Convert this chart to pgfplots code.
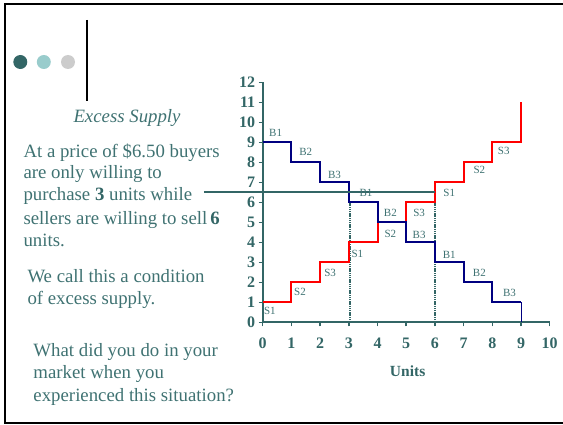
\documentclass[border=0pt]{standalone}
\usepackage{pgfplots}
\pgfplotsset{compat=1.18}
\usepackage{fontspec}
\setmainfont{Liberation Serif}
\definecolor{teal1}{HTML}{336666}
\definecolor{txt}{HTML}{3F7272}
\definecolor{lteal}{HTML}{99CCCC}
\definecolor{gr}{HTML}{CCCCCC}
\definecolor{navyb}{HTML}{000080}
\begin{document}
\begin{tikzpicture}[x=1pt,y=1pt]
\useasboundingbox (0,0) rectangle (563,424);
% slide frame
\draw[black, line width=2.2pt] (563,420) -- (4.6,420) -- (4.6,1) -- (563,1);
\draw[black, line width=2pt] (87,404) -- (87,323);
\fill[teal1] (20.3,362) circle (7);
\fill[lteal] (43.8,362) circle (7);
\fill[gr] (68,362) circle (7);
% text
\begin{scope}[every node/.style={anchor=base west, inner sep=0pt, text=txt, font=\fontsize{18.8}{18.8}\selectfont}]
\node at (73.3,301.3) {\itshape Excess Supply};
\node at (23.3,266.7) {At a price of \$6.50 buyers};
\node at (23.3,245) {are only willing to};
\node at (23.3,223.3) {purchase \textbf{\color{teal1}3} units while};
\node at (23.3,200) {sellers are willing to sell\,\textbf{\color{teal1}6}};
\node at (23.3,177.3) {units.};
\node at (27.3,141.3) {We call this a condition};
\node at (27.3,120) {of excess supply.};
\node at (33.3,68) {What did you do in your};
\node at (33.3,45.3) {market when you};
\node at (33.3,22.3) {experienced this situation?};
\end{scope}
\begin{axis}[at={(262.7pt,101.7pt)}, anchor=south west,
  x=28.7pt, y=20pt, xmin=0, xmax=10, ymin=0, ymax=12,
  axis lines=left, axis line style={teal1, line width=2pt, -},
  clip=false, xtick={0,...,10}, ytick={0,...,12},
  tick align=outside, tick style={teal1, line width=1.5pt},
  major tick length=4pt,
  ticklabel style={font=\fontsize{16}{16}\selectfont\bfseries, text=teal1},
  xticklabel style={yshift=-8pt},
  /pgf/number format/assume math mode=true]
\addplot[teal1, dash pattern=on 1.3pt off 0.9pt, line width=2pt] coordinates {(3.05,0) (3.05,6)};
\addplot[teal1, dash pattern=on 1.3pt off 0.9pt, line width=2pt] coordinates {(6,0) (6,6.5)};
\addplot[red, line width=2pt, const plot] coordinates {(0,1) (1,2) (2,3) (3,4) (4,5) (5,6) (6,7) (7,8) (8,9) (9,11)};
\addplot[navyb, line width=2pt, const plot] coordinates {(0,9) (1,8) (2,7) (3,6) (4,5) (5,4) (6,3) (7,2) (8,1) (9,1)};
\addplot[navyb, line width=1pt] coordinates {(9,1) (9,0)};
\addplot[teal1, line width=2pt] coordinates {(-2.05,6.5) (6,6.5)};
\begin{scope}[every node/.style={text=txt, font=\fontsize{11}{11}\selectfont, inner sep=0pt}]
\node at (0.45,9.45) {B1};
\node at (1.5,8.5) {B2};
\node at (2.5,7.35) {B3};
\node at (3.6,6.45) {B1};
\node at (4.45,5.45) {B2};
\node at (4.45,4.4) {S2};
\node at (5.45,5.45) {S3};
\node at (5.45,4.35) {B3};
\node at (6.5,6.45) {S1};
\node at (6.5,3.35) {B1};
\node at (7.55,2.45) {B2};
\node at (8.6,1.45) {B3};
\node at (0.25,0.55) {S1};
\node at (1.3,1.5) {S2};
\node at (2.35,2.45) {S3};
\node at (3.3,3.4) {S1};
\node at (7.55,7.6) {S2};
\node at (8.4,8.55) {S3};
\end{scope}
\node[text=teal1, font=\fontsize{15.5}{15.5}\selectfont\bfseries] at (5.05,-2.45) {Units};
\end{axis}
\end{tikzpicture}
\end{document}
